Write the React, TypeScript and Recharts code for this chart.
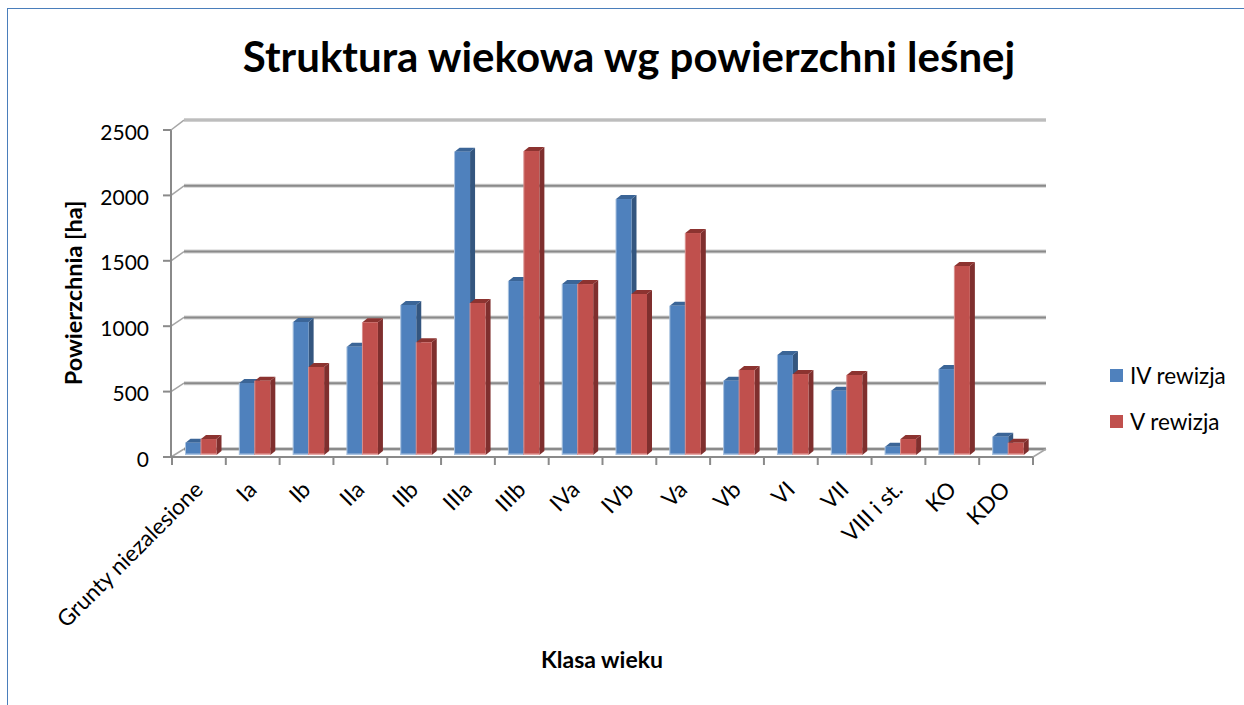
import React from "react";
import { BarChart, Bar, XAxis, YAxis, CartesianGrid, Legend } from "recharts";

const categories = [
  "Grunty niezalesione", "Ia", "Ib", "IIa", "IIb", "IIIa", "IIIb", "IVa",
  "IVb", "Va", "Vb", "VI", "VII", "VIII i st.", "KO", "KDO",
];
const ivRewizja = [94, 550, 1017, 828, 1147, 2319, 1330, 1307, 1957, 1141, 568, 765, 492, 64, 657, 140];
const vRewizja = [122, 568, 673, 1015, 862, 1162, 2324, 1307, 1231, 1697, 650, 619, 612, 122, 1445, 94];
const yTicks = [0, 500, 1000, 1500, 2000, 2500];

const data = categories.map((name, i) => ({ name, iv: ivRewizja[i], v: vRewizja[i] }));

const FONT = "Lato, 'Open Sans', sans-serif";
const WIDTH = 1244;
const HEIGHT = 705;
const PLOT_LEFT = 174.5;
const PLOT_RIGHT = 1035.5;
const PLOT_TOP = 128;
const PLOT_BOTTOM = 455;
const STEP = (PLOT_RIGHT - PLOT_LEFT) / categories.length;
const ROW = (PLOT_BOTTOM - PLOT_TOP) / (yTicks.length - 1);
const AXIS = "#8a8a8a";

// the 3D box: front plane sits left/below the plot, back wall up and right of it
function GridRow({ y1 }: any) {
  const front = y1 + 2;
  const back = 449 - (PLOT_BOTTOM - y1) * 1.006;
  const isTop = y1 < PLOT_TOP + 5;
  const isFloor = y1 > PLOT_BOTTOM - 5;
  const x0 = PLOT_LEFT - 3.5;
  const x1 = PLOT_RIGHT - 2.5;
  return (
    <g fill="none">
      <line x1={x0 + 13} x2={x1 + 13} y1={back} y2={back} stroke="#d0d0d0" strokeWidth={4} />
      <line x1={x0 + 13} x2={x1 + 13} y1={back} y2={back} stroke={isTop ? "#bdbdbd" : AXIS} strokeWidth={2} />
      <line x1={x0} x2={x0 + 13} y1={front} y2={back} stroke="#a6a6a6" strokeWidth={1.5} />
      <line x1={x0 - 8} x2={x0} y1={front} y2={front} stroke={AXIS} strokeWidth={2} />
      {!isTop && <line x1={x0} x2={x0} y1={front + 1} y2={front - ROW - 1} stroke={AXIS} strokeWidth={2} />}
      {isFloor && (
        <g>
          <line x1={x0} x2={x1} y1={front} y2={front} stroke={AXIS} strokeWidth={2} />
          <line x1={x1} x2={x1 + 13} y1={front} y2={back} stroke="#a6a6a6" strokeWidth={1.5} />
          <line x1={x1} x2={x1} y1={front} y2={front + 8} stroke={AXIS} strokeWidth={2} />
        </g>
      )}
    </g>
  );
}

function Bar3D({ x, y, width, height, fill, side, top, glow, base }: any) {
  const dx = 5;
  const dy = 4;
  const r = x + width;
  const b = y + height;
  return (
    <g>
      <polygon points={`${r},${y} ${r + dx},${y - dy} ${r + dx},${b - dy} ${r},${b}`} fill={side} />
      <polygon points={`${x},${y} ${x + dx},${y - dy} ${r + dx},${y - dy} ${r},${y}`} fill={top} />
      <rect x={x} y={y} width={width} height={height} fill={fill} />
      <rect x={x - 0.5} y={y} width={1} height={height} fill={glow} />
      <rect x={x} y={b - 1.5} width={width} height={1.5} fill={base} />
    </g>
  );
}

function XTick({ x, payload }: any) {
  const tx = x - STEP / 2 - 2.5;
  return (
    <g>
      <line x1={tx} x2={tx} y1={458} y2={465} stroke={AXIS} strokeWidth={2} />
      <text
        x={x + 3}
        y={491}
        transform={`rotate(-45 ${x + 3} 491)`}
        textAnchor="end"
        fontFamily={FONT}
        fontSize={22.5}
        fill="#000"
      >
        {payload.value}
      </text>
    </g>
  );
}

function YTick({ y, payload }: any) {
  return (
    <text x={149} y={y + 11.5} textAnchor="end" fontFamily={FONT} fontSize={21} fill="#000">
      {payload.value}
    </text>
  );
}

function LegendBox({ payload }: any) {
  return (
    <div style={{ fontFamily: FONT, fontSize: 22.5, color: "#000" }}>
      {payload.map((item: any) => (
        <div key={item.value} style={{ display: "flex", alignItems: "center", height: 46 }}>
          <span style={{ width: 13, height: 13, background: item.color, marginRight: 7 }} />
          {item.value}
        </div>
      ))}
    </div>
  );
}

export default function App() {
  return (
    <div style={{ position: "absolute", left: 0, top: 0, width: WIDTH, height: HEIGHT, overflow: "hidden", background: "#fff" }}>
      <div style={{ position: "absolute", left: 6.5, top: 7.5, right: 0, bottom: 0, borderLeft: "1.5px solid #4a7ebb", borderTop: "1.5px solid #4a7ebb" }} />
      <BarChart
        width={WIDTH}
        height={HEIGHT}
        data={data}
        margin={{ top: PLOT_TOP, right: WIDTH - PLOT_RIGHT, bottom: 0, left: 0 }}
        barGap={0}
        barSize={15.5}
        style={{ position: "absolute", left: 0, top: 0 }}
      >
        <CartesianGrid vertical={false} horizontal={(props: any) => <GridRow key={props.y1} {...props} />} />
        <XAxis dataKey="name" height={HEIGHT - PLOT_BOTTOM} axisLine={false} tickLine={false} interval={0} tick={<XTick />} />
        <YAxis width={PLOT_LEFT} domain={[0, 2500]} ticks={yTicks} axisLine={false} tickLine={false} tick={<YTick />} />
        <Legend
          layout="vertical"
          align="center"
          verticalAlign="middle"
          content={<LegendBox />}
          wrapperStyle={{ left: 1110, top: 352, width: 130 }}
        />
        <Bar
          dataKey="iv"
          name="IV rewizja"
          fill="#4f81bd"
          isAnimationActive={false}
          shape={<Bar3D side="#34567f" top="#3b6597" glow="#a9c2e0" base="#a9c2e0" />}
        />
        <Bar
          dataKey="v"
          name="V rewizja"
          fill="#c0504d"
          isAnimationActive={false}
          shape={<Bar3D side="#7f2f2e" top="#8c3330" glow="#d98f8d" base="#e6a8a6" />}
        />
        <text x={629} y={72} textAnchor="middle" fontFamily={FONT} fontSize={42} fontWeight={700} fill="#000">
          Struktura wiekowa wg powierzchni leśnej
        </text>
        <text x={602} y={668} textAnchor="middle" fontFamily={FONT} fontSize={23} fontWeight={700} fill="#000">
          Klasa wieku
        </text>
        <text
          x={82}
          y={293}
          transform="rotate(-90 82 293)"
          textAnchor="middle"
          fontFamily={FONT}
          fontSize={23.5}
          fontWeight={700}
          fill="#000"
        >
          Powierzchnia [ha]
        </text>
      </BarChart>
    </div>
  );
}
